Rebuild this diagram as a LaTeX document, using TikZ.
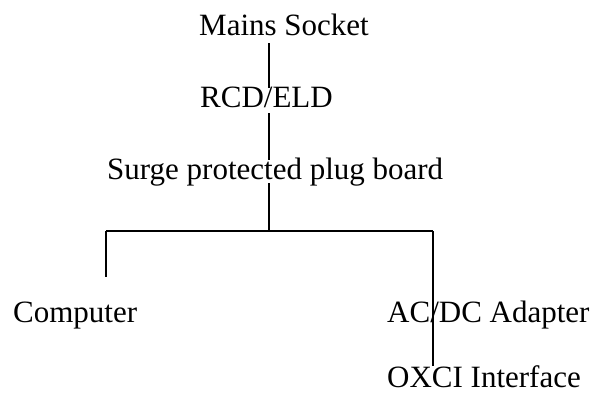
\documentclass[tikz,border=0pt]{standalone}
\usepackage{fontspec}
\setmainfont{Liberation Serif}
\usetikzlibrary{calc}
\usetikzlibrary{positioning}

\tikzset{
    label text/.style={inner sep=0pt, anchor=base west, text height=21pt, text depth=0pt, font=\fontsize{31}{36}\selectfont},
    wire/.style={line width=1.4pt, draw=black}
}

\begin{document}
\begin{tikzpicture}[x=1pt, y=1pt]
    \useasboundingbox (0,0) rectangle (591,-394);

    \node [label text] (mains) at (199,-35) {Mains Socket};
    \node [label text] (rcd) at (200,-107) {RCD/ELD};
    \node [label text] (surge) at (107,-179) {Surge protected plug board};
    \node [label text] (computer) at (13,-322) {Computer};
    \node [label text] (adapter) at (387,-322) {AC/DC Adapter};
    \node [label text] (oxci) at (387,-387) {OXCI Interface};

    \coordinate (trunk) at (269,-231);
    \coordinate (leftend) at (106,-231);
    \coordinate (rightend) at (433,-231);

    \draw [wire, shorten <=8pt, shorten >=-2pt] (mains.south -| trunk) -- (rcd.north -| trunk);
    \draw [wire, shorten <=6pt, shorten >=-2pt] (rcd.south -| trunk) -- (surge.north -| trunk);
    \draw [wire, shorten <=4pt] (surge.south -| trunk) -- (trunk);
    \draw [wire] (leftend) -- (rightend);
    \draw [wire, shorten >=24pt] (leftend) -- (leftend |- computer.north);
    \draw [wire] (rightend) -- (rightend |- oxci.north);
\end{tikzpicture}
\end{document}
